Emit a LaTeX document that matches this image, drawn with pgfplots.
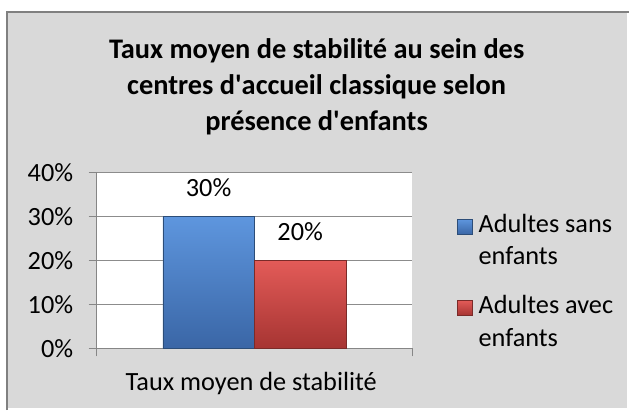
\documentclass[border=0pt]{standalone}
\usepackage{fontspec}
\setmainfont{Carlito}
\usepackage{pgfplots}
\pgfplotsset{compat=1.18}

\definecolor{chartbg}{HTML}{D9D9D9}
\definecolor{framegray}{HTML}{808080}
\definecolor{axisgray}{HTML}{868686}
\definecolor{gridgray}{HTML}{8C8C8C}
\definecolor{blueT}{HTML}{5E96DE}
\definecolor{blueM}{HTML}{467CC6}
\definecolor{blueB}{HTML}{3A66A6}
\definecolor{blueD}{HTML}{2C4D78}
\definecolor{redT}{HTML}{E35B58}
\definecolor{redM}{HTML}{D0423F}
\definecolor{redB}{HTML}{A63432}
\definecolor{redD}{HTML}{7A2B29}

\pgfplotsset{
  sq legend/.style={legend image code/.code={
    \draw[##1] (0bp,-2bp) rectangle (15bp,13bp);}},
}
\newcommand{\lgd}[2]{\parbox[t]{150bp}{\fontsize{26.5}{33}\selectfont #1\\#2}}

\begin{document}
\begin{tikzpicture}
  % chart area: light grey, frame on the left and top only (the picture is cropped)
  \fill[white] (0bp,0bp) rectangle (630bp,410bp);
  \fill[chartbg] (7bp,0bp) rectangle (630bp,398bp);
  \draw[framegray, line width=1.5bp] (7bp,-2bp) -- (7bp,398bp) -- (632bp,398bp);
  \useasboundingbox (0bp,0bp) rectangle (630bp,410bp);

  % title, one node per line (straight apostrophes as in the original)
  \begin{scope}[font=\fontsize{28.6}{34}\selectfont\bfseries]
    \node[anchor=base] at (318bp,351bp) {Taux moyen de stabilité au sein des};
    \node[anchor=base] at (318bp,315bp) {centres d\textquotesingle accueil classique selon};
    \node[anchor=base] at (318bp,279bp) {présence d\textquotesingle enfants};
  \end{scope}

  \begin{axis}[
      at={(97bp,60bp)}, anchor=south west,
      scale only axis, width=317bp, height=177bp,
      axis background/.style={fill=white},
      font=\fontsize{26.5}{30}\selectfont,
      xmin=-0.5, xmax=0.5, ymin=0, ymax=40,
      ybar=0pt, bar width=92bp,
      axis x line*=bottom, axis y line*=left,
      axis line style={axisgray, line width=1bp, -},
      tick style={axisgray, line width=1bp},
      tick align=outside,
      ytick={0,10,20,30,40},
      yticklabel={\pgfmathprintnumber[assume math mode=true]{\tick}\%},
      y tick label style={anchor=east, xshift=-12bp},
      major tick length=8bp,
      ymajorgrids, grid style={gridgray, line width=1bp},
      xtick={-0.5,0.5}, xticklabels={,},
      xlabel={Taux moyen de stabilité},
      xlabel style={at={(axis description cs:0.49,0)}, anchor=base, yshift=-42bp},
      nodes near coords={\pgfmathprintnumber[assume math mode=true]{\pgfplotspointmeta}\%},
      every node near coord/.append style={anchor=base, yshift=20bp, black},
      legend style={at={(axis description cs:1.142,0.765)}, anchor=north west,
        draw=none, fill=none, inner sep=0pt,
        font=\fontsize{26.5}{33}\selectfont,
        row sep=61bp, column sep=6bp,
        nodes={inner sep=0pt}, cells={anchor=base west}},
    ]
    \addplot[draw=blueD, shading=axis, top color=blueT, middle color=blueM,
      bottom color=blueB, sq legend] coordinates {(0,30)};
    \addlegendentry{\lgd{Adultes sans}{enfants}}
    \addplot[draw=redD, shading=axis, top color=redT, middle color=redM,
      bottom color=redB, sq legend] coordinates {(0,20)};
    \addlegendentry{\lgd{Adultes avec}{enfants}}
  \end{axis}
\end{tikzpicture}
\end{document}
